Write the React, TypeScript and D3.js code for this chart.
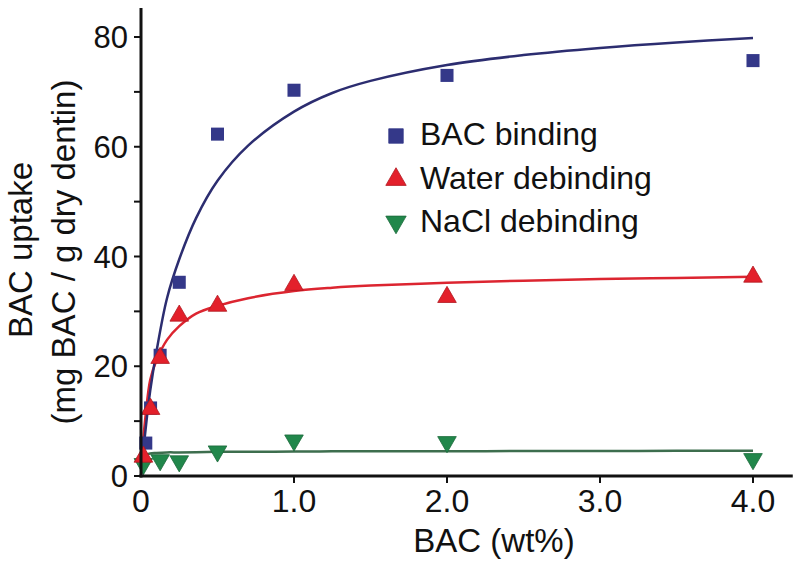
import React from "react";
import * as d3 from "d3";

// measured points (BAC wt%)
const concX = [0.03125, 0.0625, 0.125, 0.25, 0.5, 1.0, 2.0, 4.0];
const bindingY = [6.0, 12.4, 22.0, 35.3, 62.3, 70.3, 73.0, 75.7];

const waterX = [0.0156, 0.0625, 0.125, 0.25, 0.5, 1.0, 2.0, 4.0];
const waterY = [3.5, 12.2, 21.5, 29.2, 31.0, 34.8, 32.6, 36.3];

const naclX = [0.0156, 0.125, 0.25, 0.5, 1.0, 2.0, 4.0];
const naclY = [2.2, 2.9, 2.7, 4.5, 6.5, 6.2, 3.1];

// fitted curves
const fitX = [0, 0.03, 0.06, 0.1, 0.17, 0.25, 0.36, 0.5, 0.7, 1.0, 1.25, 1.5, 2.0, 2.5, 3.0, 3.5, 4.0];
const bindingFit = [0, 8.5, 15.5, 22.5, 32.4, 39.5, 47.0, 53.8, 60.2, 66.4, 69.8, 72.0, 74.9, 76.7, 78.0, 79.0, 79.8];
const waterFit = [2.0, 11.0, 17.5, 21.0, 24.8, 27.3, 29.6, 31.0, 32.4, 33.7, 34.3, 34.7, 35.2, 35.6, 35.9, 36.1, 36.3];
const naclFit = [1.2, 3.8, 4.1, 4.2, 4.3, 4.3, 4.35, 4.4, 4.4, 4.45, 4.5, 4.5, 4.5, 4.55, 4.55, 4.6, 4.6];

const xTicks = [0, 1, 2, 3, 4];
const xTickLabels = ["0", "1.0", "2.0", "3.0", "4.0"];
const yTicks = [0, 20, 40, 60, 80];
const yMinorTicks = [10, 30, 50, 70];

const legendLabels = ["BAC binding", "Water debinding", "NaCl debinding"];

const FONT = "'Liberation Sans', Arial, Helvetica, sans-serif";
const NAVY = "#343889";
const NAVY_LINE = "#2c2d70";
const RED = "#e3202b";
const RED_LINE = "#dc2530";
const GREEN = "#21874b";
const GREEN_LINE = "#3d6e4e";

const App = () => {
  const width = 800;
  const height = 569;

  const x = d3.scaleLinear().domain([0, 4]).range([141, 753]);
  const y = d3.scaleLinear().domain([0, 80]).range([476, 37]);
  const xEnd = x(4.26);
  const yTop = y(85.3);

  const line = (vals: number[]) =>
    d3
      .line<number>()
      .x((_, i) => x(fitX[i]))
      .y((d) => y(d))
      .curve(d3.curveCatmullRom.alpha(0.5))(vals) || "";

  const square = d3.symbol().type(d3.symbolSquare).size(170)();
  const tri = d3.symbol().type(d3.symbolTriangle).size(150)();
  const legendSquare = d3.symbol().type(d3.symbolSquare).size(210)();
  const legendTri = d3.symbol().type(d3.symbolTriangle).size(180)();

  const legendRows = [
    { label: legendLabels[0], path: legendSquare, fill: NAVY, stroke: NAVY, rot: 0 },
    { label: legendLabels[1], path: legendTri, fill: RED, stroke: "#b01820", rot: 0 },
    { label: legendLabels[2], path: legendTri, fill: GREEN, stroke: "#1a6a3a", rot: 180 },
  ];

  return (
    <svg
      width={width}
      height={height}
      style={{ position: "absolute", left: 0, top: 0, background: "#fff" }}
      fontFamily={FONT}
    >
      {/* fitted curves */}
      <path d={line(naclFit)} fill="none" stroke={GREEN_LINE} strokeWidth={2.5} />
      <path d={line(waterFit)} fill="none" stroke={RED_LINE} strokeWidth={2.5} />
      <path d={line(bindingFit)} fill="none" stroke={NAVY_LINE} strokeWidth={2.5} />

      {/* data markers */}
      {concX.map((c, i) => (
        <path key={"b" + i} d={square} transform={`translate(${x(c)},${y(bindingY[i])})`} fill={NAVY} />
      ))}
      {naclX.map((c, i) => (
        <path
          key={"n" + i}
          d={tri}
          transform={`translate(${x(c)},${y(naclY[i])}) rotate(180)`}
          fill={GREEN}
          stroke="#1a6a3a"
          strokeWidth={0.8}
        />
      ))}
      {waterX.map((c, i) => (
        <path
          key={"w" + i}
          d={tri}
          transform={`translate(${x(c)},${y(waterY[i])})`}
          fill={RED}
          stroke="#b01820"
          strokeWidth={0.8}
        />
      ))}

      {/* axes */}
      <line x1={x(0)} x2={x(0)} y1={yTop} y2={y(0) + 1.5} stroke="#111" strokeWidth={3} />
      <line x1={x(0) - 1.5} x2={xEnd} y1={y(0)} y2={y(0)} stroke="#111" strokeWidth={3} />
      {yTicks.concat(yMinorTicks).map((t) => (
        <line key={"yt" + t} x1={x(0) - 7} x2={x(0)} y1={y(t)} y2={y(t)} stroke="#111" strokeWidth={2} />
      ))}
      {yTicks.map((t) => (
        <text key={"yl" + t} x={128} y={y(t)} dy="0.36em" textAnchor="end" fontSize={31} fill="#111">
          {t}
        </text>
      ))}
      {xTicks.map((t, i) => (
        <g key={"xt" + t}>
          {t > 0 && <line x1={x(t)} x2={x(t)} y1={y(0)} y2={y(0) + 7} stroke="#111" strokeWidth={2} />}
          <text x={x(t)} y={512} textAnchor="middle" fontSize={32} fill="#111">
            {xTickLabels[i]}
          </text>
        </g>
      ))}

      {/* axis titles */}
      <text x={494} y={552} textAnchor="middle" fontSize={33} fill="#111">
        BAC (wt%)
      </text>
      <text transform="translate(32,250) rotate(-90)" textAnchor="middle" fontSize={33} fill="#111">
        BAC uptake
      </text>
      <text transform="translate(75,252) rotate(-90)" textAnchor="middle" fontSize={33} fill="#111">
        (mg BAC / g dry dentin)
      </text>

      {/* legend */}
      {legendRows.map((r, i) => (
        <g key={"lg" + i} transform={`translate(0,${i * 43.5})`}>
          <path
            d={r.path}
            transform={`translate(396,${136 + (r.rot ? -1 : 0)}) rotate(${r.rot})`}
            fill={r.fill}
            stroke={r.stroke}
            strokeWidth={0.8}
          />
          <text x={420} y={145} fontSize={32} fill="#111">
            {r.label}
          </text>
        </g>
      ))}
    </svg>
  );
};

export default App;
